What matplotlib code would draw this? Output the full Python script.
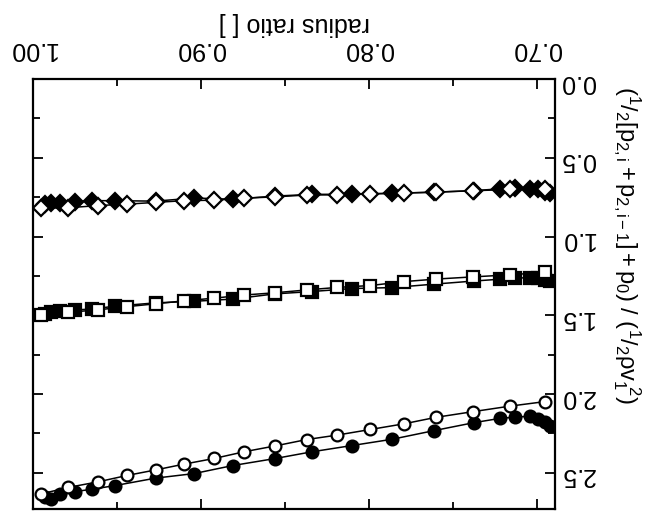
import matplotlib
matplotlib.use("Agg")
import matplotlib.pyplot as plt
from matplotlib.ticker import MultipleLocator, FormatStrFormatter

plt.rcParams["font.family"] = ["Liberation Sans", "DejaVu Sans"]
plt.rcParams["mathtext.fontset"] = "custom"
plt.rcParams["mathtext.rm"] = "Liberation Sans"
plt.rcParams["mathtext.it"] = "Liberation Sans"

# x positions of the open-symbol series
x_open = [0.995, 0.979, 0.961, 0.944, 0.927, 0.910, 0.892, 0.874, 0.856,
          0.837, 0.819, 0.799, 0.779, 0.760, 0.738, 0.716, 0.695]
# x positions of the filled-symbol series
x_filled = [0.993, 0.989, 0.984, 0.975, 0.965, 0.951, 0.927, 0.904, 0.881,
            0.856, 0.834, 0.810, 0.786, 0.761, 0.737, 0.722, 0.713, 0.704,
            0.699, 0.695, 0.692]

circle_open = [2.634, 2.593, 2.557, 2.517, 2.482, 2.445, 2.409, 2.366, 2.330,
               2.289, 2.261, 2.225, 2.189, 2.148, 2.112, 2.077, 2.048]
circle_filled = [2.655, 2.666, 2.635, 2.619, 2.605, 2.581, 2.534, 2.505, 2.454,
                 2.410, 2.367, 2.327, 2.287, 2.232, 2.181, 2.155, 2.147, 2.141,
                 2.157, 2.180, 2.206]

square_open = [1.499, 1.481, 1.465, 1.445, 1.427, 1.408, 1.391, 1.371, 1.357,
               1.339, 1.323, 1.311, 1.286, 1.270, 1.256, 1.243, 1.227]
square_filled = [1.492, 1.480, 1.474, 1.466, 1.460, 1.442, 1.421, 1.411, 1.397,
                 1.364, 1.349, 1.330, 1.324, 1.302, 1.282, 1.271, 1.265, 1.260,
                 1.263, 1.273, 1.279]

diamond_open = [0.820, 0.817, 0.803, 0.794, 0.783, 0.772, 0.769, 0.756, 0.748,
                0.736, 0.735, 0.728, 0.723, 0.718, 0.709, 0.701, 0.697]
diamond_filled = [0.792, 0.786, 0.784, 0.778, 0.772, 0.772, 0.775, 0.755, 0.763,
                  0.743, 0.732, 0.731, 0.726, 0.718, 0.708, 0.697, 0.694, 0.698,
                  0.701, 0.714, 0.724]

x_ticks = [0.70, 0.80, 0.90, 1.00]
y_ticks = [0.0, 0.5, 1.0, 1.5, 2.0, 2.5]

fig = plt.figure(figsize=(6.53, 5.13), dpi=100)
ax = fig.add_axes([0.0505, 0.0078, 0.7995, 0.838])

style = dict(color="k", lw=1.1, mec="k", mew=1.6)
# filled first, open symbols drawn on top
ax.plot(x_filled, circle_filled, marker="o", ms=8.5, mfc="k", **style)
ax.plot(x_filled, square_filled, marker="s", ms=8, mfc="k", **style)
ax.plot(x_filled, diamond_filled, marker="D", ms=8, mfc="k", **style)
ax.plot(x_open, circle_open, marker="o", ms=8.5, mfc="white", **style)
ax.plot(x_open, square_open, marker="s", ms=8, mfc="white", **style)
ax.plot(x_open, diamond_open, marker="D", ms=8, mfc="white", **style)

# the scanned figure is upside down: flip both axes and rotate the text
ax.set_xlim(1.0, 0.689)
ax.set_ylim(2.73, 0.0)
ax.set_xticks(x_ticks)
ax.set_yticks(y_ticks)
ax.xaxis.set_minor_locator(MultipleLocator(0.05))
ax.yaxis.set_minor_locator(MultipleLocator(0.25))
ax.xaxis.set_major_formatter(FormatStrFormatter("%.2f"))
ax.yaxis.set_major_formatter(FormatStrFormatter("%.1f"))

ax.tick_params(which="both", direction="in", top=True, bottom=True,
               left=True, right=True, labeltop=True, labelbottom=False,
               labelright=True, labelleft=False, labelsize=18,
               labelrotation=180, width=1.3)
ax.tick_params(which="major", length=7)
ax.tick_params(which="minor", length=5)
ax.tick_params(axis="x", which="major", pad=13)
for s in ax.spines.values():
    s.set_linewidth(1.6)

ax.xaxis.set_label_position("top")
ax.set_xlabel("radius ratio [ ]", fontsize=18, rotation=180, labelpad=4)
ax.set_ylabel(r"$(^1/_2[p_{2,i}+p_{2,i-1}]+p_0)\ /\ (^1/_2\rho v_1^{\ 2})$",
              fontsize=17, rotation=270, ha="center", va="center",
              rotation_mode="default")
ax.yaxis.set_label_coords(1.138, 0.614)

fig.savefig("out.png", dpi=100)
